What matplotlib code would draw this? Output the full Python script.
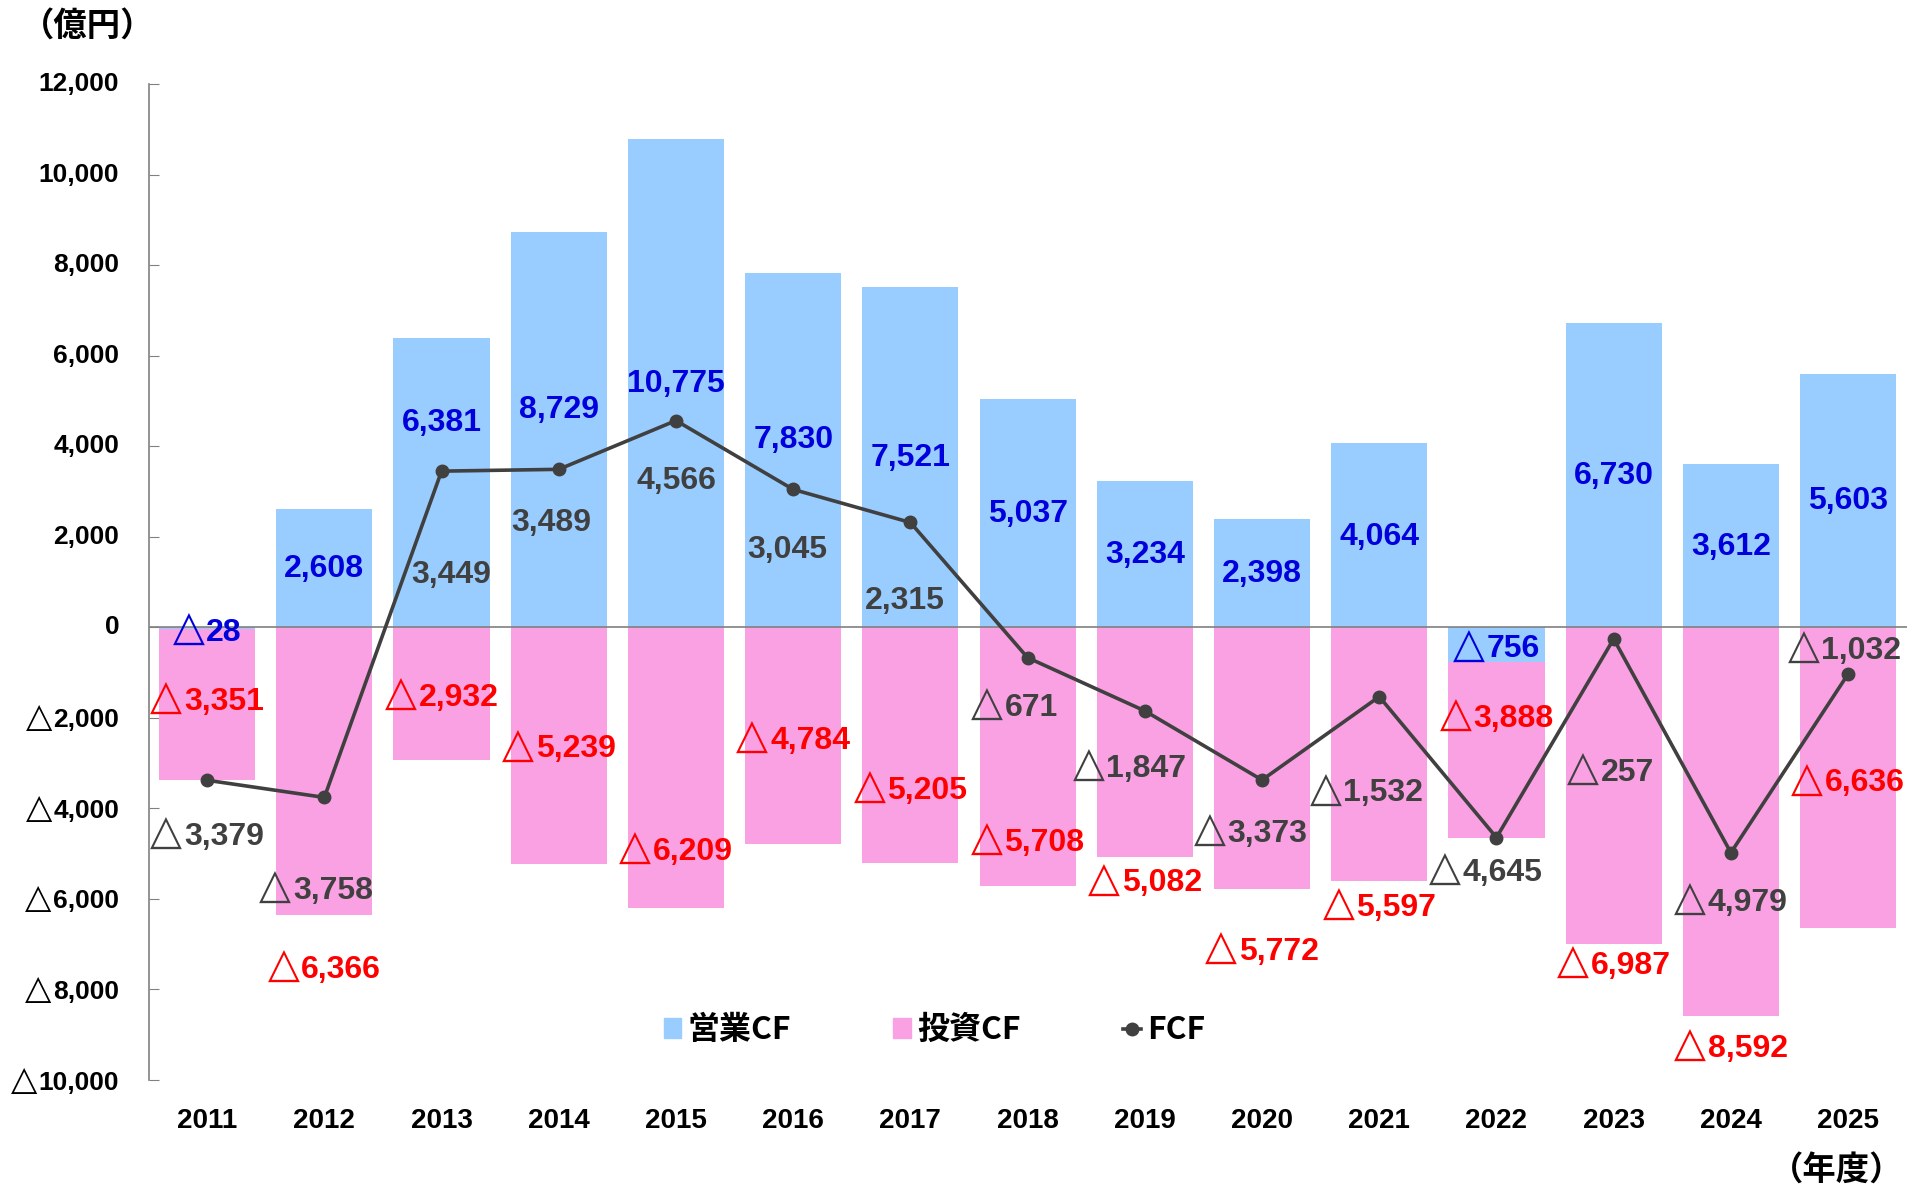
import numpy as np
import matplotlib
matplotlib.use("Agg")
import matplotlib.pyplot as plt
from matplotlib.lines import Line2D
from matplotlib.patches import Patch
from matplotlib.offsetbox import TextArea, HPacker, AnnotationBbox

plt.rcParams['font.family'] = ['Noto Sans CJK JP', 'DejaVu Sans']
NUM_FONT = ['Liberation Sans', 'DejaVu Sans']
TRI_FONT = ['DejaVu Sans']

# --- datos (億円) ---
years = ["2011", "2012", "2013", "2014", "2015", "2016", "2017", "2018",
         "2019", "2020", "2021", "2022", "2023", "2024", "2025"]
operating_cf = [-28, 2608, 6381, 8729, 10775, 7830, 7521, 5037,
                3234, 2398, 4064, -756, 6730, 3612, 5603]
investing_cf = [-3351, -6366, -2932, -5239, -6209, -4784, -5205, -5708,
                -5082, -5772, -5597, -3888, -6987, -8592, -6636]
fcf = [-3379, -3758, 3449, 3489, 4566, 3045, 2315, -671,
       -1847, -3373, -1532, -4645, -257, -4979, -1032]
y_ticks = [-10000, -8000, -6000, -4000, -2000, 0, 2000, 4000, 6000, 8000, 10000, 12000]

# posiciones de las etiquetas (unidades de datos), colocadas a mano como en el original
op_label_y = [-30, 1290, 4520, 4790, 5380, 4140, 3740, 2500,
              1590, 1180, 1990, -400, 3340, 1780, 2800]
inv_label_y = [-1560, -7480, -1480, -2610, -4870, -2420, -3525, -4680,
               -5570, -7080, -6110, -1940, -7400, -9230, -3360]
fcf_label_y = [-4550, -5730, 1160, 2310, 3230, 1700, 590, -1700,
               -3040, -4470, -3580, -5330, -3120, -6000, -430]
fcf_label_dx = [0, -0.07, 0.08, -0.06, 0.0, -0.05, -0.05, -0.11,
                -0.13, -0.1, -0.11, -0.09, -0.03, 0.0, -0.03]

COL_OP = "#99CCFF"
COL_INV = "#F9A1E2"
COL_FCF = "#404040"


def etiqueta(ax, xy, valor, color, size, xycoords="data", xybox=None, align=(0.5, 0.5)):
    """Numero con △ grande delante si es negativo (estilo japones)."""
    partes = []
    if valor < 0:
        partes.append(TextArea("△", textprops=dict(color=color, fontsize=size * 1.3,
                                                     family=TRI_FONT)))
    partes.append(TextArea(f"{abs(valor):,.0f}", textprops=dict(color=color, fontsize=size,
                                                                 fontweight="bold",
                                                                 family=NUM_FONT)))
    caja = HPacker(children=partes, align="baseline", pad=0, sep=size * 0.06)
    kw = dict(xycoords=xycoords, frameon=False, box_alignment=align, pad=0,
              annotation_clip=False, zorder=5)
    if xybox is not None:
        kw.update(xybox=xybox, boxcoords="offset points")
    ab = AnnotationBbox(caja, xy, **kw)
    ax.add_artist(ab)


fig = plt.figure(figsize=(19.09, 11.85), dpi=100)
ax = fig.add_axes([0.0778, 0.0886, 0.921, 0.8405])

x = np.arange(len(years))
width = 0.82
inv_bottom = [min(v, 0) for v in operating_cf]

ax.bar(x, operating_cf, width=width, color=COL_OP, zorder=2)
ax.bar(x, investing_cf, width=width, bottom=inv_bottom, color=COL_INV, zorder=2)
ax.axhline(0, color="#808080", lw=1.2, zorder=3)
ax.plot(x, fcf, color=COL_FCF, lw=2.6, marker="o", markersize=9, zorder=4)

for i in range(len(years)):
    etiqueta(ax, (x[i], op_label_y[i]), operating_cf[i], "#0000DD", 23)
    etiqueta(ax, (x[i], inv_label_y[i]), investing_cf[i], "#FF0000", 23)
    etiqueta(ax, (x[i] + fcf_label_dx[i], fcf_label_y[i]), fcf[i], COL_FCF, 23)

ax.set_xlim(-0.5, len(years) - 0.5)
ax.set_ylim(-10000, 12000)
ax.set_yticks(y_ticks)
ax.set_yticklabels([])
for t in y_ticks:
    etiqueta(ax, (0, t), t, "black", 19, xycoords=ax.get_yaxis_transform(),
             xybox=(-21, 0), align=(1, 0.5))
ax.set_xticks(x)
ax.set_xticklabels(years)

for s in ["top", "right", "bottom"]:
    ax.spines[s].set_visible(False)
ax.spines["left"].set_color("#808080")
ax.spines["left"].set_linewidth(1.2)
ax.tick_params(axis="y", direction="in", length=7, color="#808080")
ax.tick_params(axis="x", length=0, pad=20, labelsize=20)
for lab in ax.get_xticklabels():
    lab.set_fontweight("bold")
    lab.set_family(NUM_FONT)

handles = [Patch(color=COL_OP, label="営業CF"),
           Patch(color=COL_INV, label="投資CF"),
           Line2D([0], [0], color=COL_FCF, lw=2.6, marker="o", markersize=9, label="FCF")]
leg = ax.legend(handles=handles, loc="center", bbox_to_anchor=(0.447, 0.05), ncol=3,
                frameon=False, handlelength=0.55, handleheight=0.55, handletextpad=0.2,
                columnspacing=3.2, prop={"size": 23, "weight": "bold"})

fig.text(0.011, 0.978, "（億円）", fontsize=24, fontweight="bold", va="center", ha="left")
fig.text(0.997, 0.012, "（年度）", fontsize=24, fontweight="bold", va="center", ha="right")

fig.savefig("out.png", dpi=100, facecolor="white")
